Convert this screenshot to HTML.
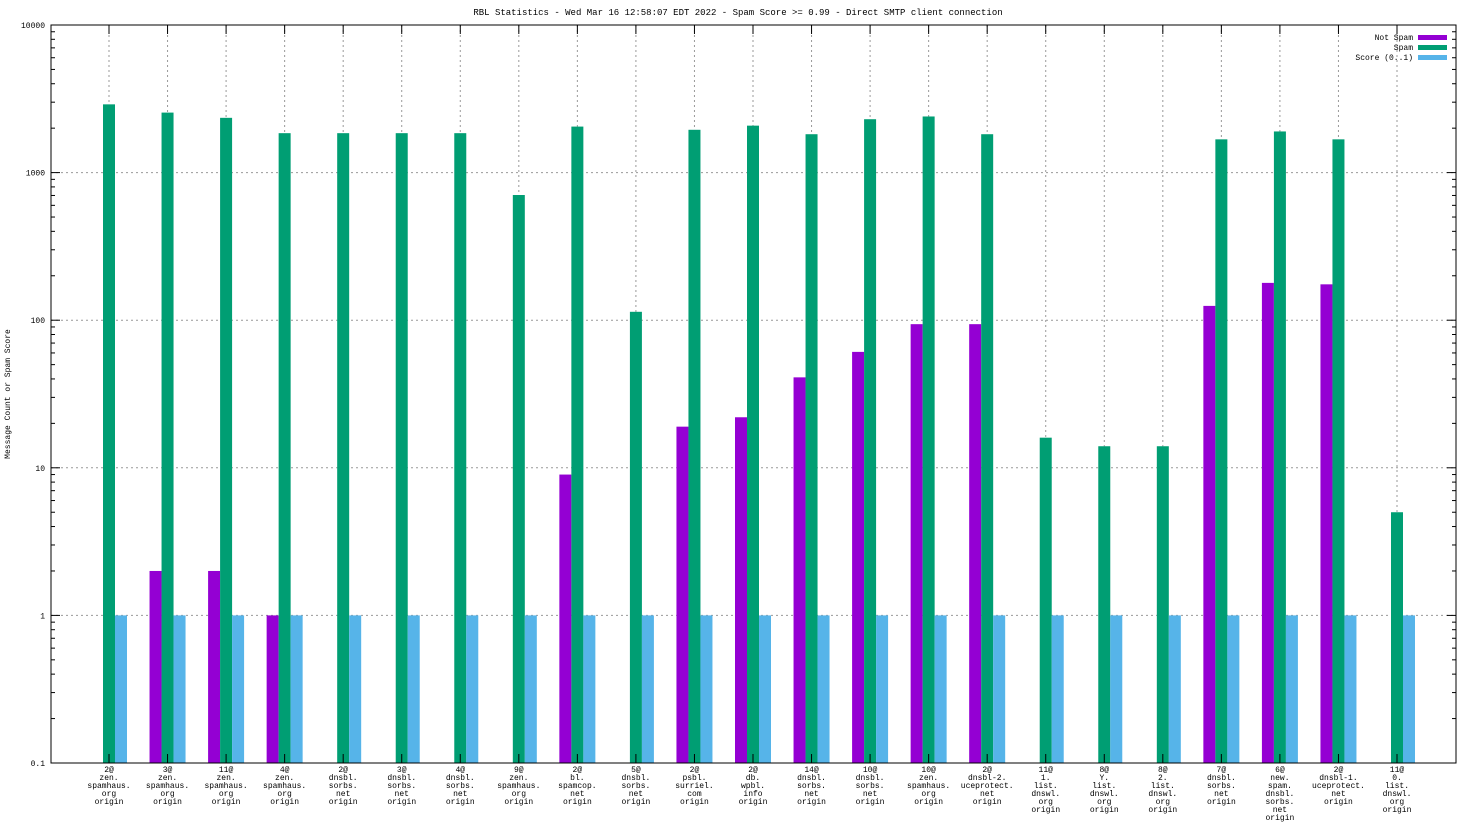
<!DOCTYPE html>
<html><head><meta charset="utf-8"><style>
html,body{margin:0;padding:0;background:#fff;}
svg{display:block;font-family:"Liberation Mono","DejaVu Sans Mono",monospace;}
</style></head><body>
<svg id="chart" width="1472" height="828" viewBox="0 0 1472 828" xmlns="http://www.w3.org/2000/svg">
<rect width="1472" height="828" fill="#fff"/>
<text x="738" y="15" font-size="9" text-anchor="middle">RBL Statistics - Wed Mar 16 12:58:07 EDT 2022 - Spam Score &gt;= 0.99 - Direct SMTP client connection</text>
<text transform="translate(10,394) rotate(-90)" font-size="8" text-anchor="middle">Message Count or Spam Score</text>
<g id="grid"></g><g id="bars"></g><g id="axes"></g>
<g font-size="8">
<text x="1413" y="40" text-anchor="end">Not Spam</text><rect x="1418" y="35" width="29" height="5" fill="#9400d3"/>
<text x="1413" y="50" text-anchor="end">Spam</text><rect x="1418" y="45" width="29" height="5" fill="#009e73"/>
<text x="1413" y="60" text-anchor="end">Score (0..1)</text><rect x="1418" y="55" width="29" height="5" fill="#56b4e9"/>
</g>
</svg>
<script>
const categories = [
["2@","zen.","spamhaus.","org","origin"],["3@","zen.","spamhaus.","org","origin"],["11@","zen.","spamhaus.","org","origin"],["4@","zen.","spamhaus.","org","origin"],
["2@","dnsbl.","sorbs.","net","origin"],["3@","dnsbl.","sorbs.","net","origin"],["4@","dnsbl.","sorbs.","net","origin"],["9@","zen.","spamhaus.","org","origin"],
["2@","bl.","spamcop.","net","origin"],["5@","dnsbl.","sorbs.","net","origin"],["2@","psbl.","surriel.","com","origin"],["2@","db.","wpbl.","info","origin"],
["14@","dnsbl.","sorbs.","net","origin"],["10@","dnsbl.","sorbs.","net","origin"],["10@","zen.","spamhaus.","org","origin"],["2@","dnsbl-2.","uceprotect.","net","origin"],
["11@","1.","list.","dnswl.","org","origin"],["8@","Y.","list.","dnswl.","org","origin"],["8@","2.","list.","dnswl.","org","origin"],["7@","dnsbl.","sorbs.","net","origin"],
["6@","new.","spam.","dnsbl.","sorbs.","net","origin"],["2@","dnsbl-1.","uceprotect.","net","origin"],["11@","0.","list.","dnswl.","org","origin"]];
const notSpam = [null,2,2,1,null,null,null,null,9,null,19,22,41,61,94,94,null,null,null,125,179,175,null];
const spam = [2900,2550,2350,1850,1850,1850,1850,705,2050,114,1950,2080,1820,2300,2400,1820,16,14,14,1680,1900,1680,5];
const score = [1,1,1,1,1,1,1,1,1,1,1,1,1,1,1,1,1,1,1,1,1,1,1];
const yTicks = [0.1,1,10,100,1000,10000];
const yTickLabels = ["0.1","1","10","100","1000","10000"];

const NS="http://www.w3.org/2000/svg";
const L=51,R=1456,T=25,B=763;
const y=v=>B-(Math.log10(v)+1)*(B-T)/5;
const xc=i=>109+i*(1397-109)/22;
function mk(tag,attrs,parent){const e=document.createElementNS(NS,tag);for(const k in attrs)e.setAttribute(k,attrs[k]);parent.appendChild(e);return e;}
const grid=document.getElementById('grid'),bars=document.getElementById('bars'),axes=document.getElementById('axes');
yTicks.forEach((t,k)=>{
  const yy=y(t);
  if(k>0&&k<yTicks.length-1){const g=mk('line',{x1:L,x2:R,y1:yy,y2:yy,stroke:'#999','stroke-dasharray':'2,3','stroke-width':1},grid);
  
  }
  mk('line',{x1:L,x2:L+9,y1:yy,y2:yy,stroke:'#000'},axes);
  mk('line',{x1:R,x2:R-9,y1:yy,y2:yy,stroke:'#000'},axes);
  if(k<yTicks.length-1)for(let m=2;m<10;m++){const my=y(t*m);mk('line',{x1:L,x2:L+4,y1:my,y2:my,stroke:'#000'},axes);mk('line',{x1:R,x2:R-4,y1:my,y2:my,stroke:'#000'},axes);}
  const tl=mk('text',{x:L-6,y:yy+3,'font-size':8,'text-anchor':'end'},axes);
  tl.textContent=yTickLabels[k];
  
  
});
categories.forEach((c,i)=>{
  const cx=xc(i);
  const g=mk('line',{x1:cx,x2:cx,y1:T,y2:B,stroke:'#999','stroke-dasharray':'2,3'},grid);
  
  
  mk('line',{x1:cx,x2:cx,y1:B,y2:B-9,stroke:'#000'},axes);
  mk('line',{x1:cx,x2:cx,y1:T,y2:T+9,stroke:'#000'},axes);
  const series=[[notSpam[i],-18,'#9400d3','bar-not-spam'],[spam[i],-6,'#009e73','bar-spam'],[score[i],6,'#56b4e9','bar-score']];
  series.forEach(([v,off,col,nm])=>{
    if(v==null)return;
    const yt=y(v);
    const r=mk('rect',{x:cx+off,y:yt,width:12,height:B-yt,fill:col},bars);
    
    
  });
  const t=mk('text',{x:cx,y:772,'font-size':8,'text-anchor':'middle'},axes);
  
  
  c.forEach((line,j)=>{const s=mk('tspan',{x:cx,dy:j?8:0},t);s.textContent=line;});
});
mk('rect',{x:L,y:T,width:R-L,height:B-T,fill:'none',stroke:'#000'},axes);
</script>
</body></html>
